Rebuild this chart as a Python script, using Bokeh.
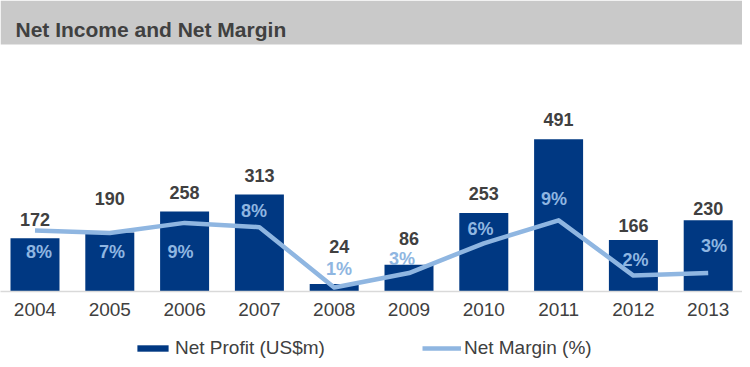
from bokeh.plotting import figure
from bokeh.layouts import column
from bokeh.models import (ColumnDataSource, Range1d, FixedTicker, Legend, LegendItem,
                          Label, BoxAnnotation)
from bokeh.embed import file_html
from bokeh.resources import INLINE
from bokeh.core.properties import value

# ---- data ----
years = ["2004", "2005", "2006", "2007", "2008", "2009", "2010", "2011", "2012", "2013"]
net_profit = [172, 190, 258, 313, 24, 86, 253, 491, 166, 230]
net_margin = [7.7, 7.4, 8.6, 8.1, 1.0, 2.7, 6.2, 8.9, 2.4, 2.7]
series_names = ["Net Profit (US$m)", "Net Margin (%)"]

# ---- label placement (pixels) ----
profit_dx = [0, 0, 0, 0, 5, 0, 0, 0, 0, 0]
profit_dy = [-18.7, -33.6, -19.5, -18.5, -37.6, -26.3, -19.1, -19.5, -15, -11.2]
margin_dx = [4, 2.2, -4.1, -5.4, 4.8, -7, -3.3, -4.6, 2.1, 5.8]
margin_dy = [21.5, 18.9, 29.1, -16.6, -18.5, -14, -14.3, -21.3, -15.1, -27]

NAVY = "#003882"
LIGHT = "#8FB6E1"
DARK = "#404040"
FONT = "Liberation Sans"

idx = list(range(len(years)))
src = ColumnDataSource(dict(
    x=idx, profit=net_profit, margin=net_margin,
    profit_txt=[str(v) for v in net_profit],
    margin_txt=[f"{round(v):d}%" for v in net_margin],
    pdx=profit_dx, pdy=profit_dy, mdx=margin_dx, mdy=margin_dy,
))

p = figure(width=742, height=323, output_backend="svg", toolbar_location=None,
           x_range=Range1d(-0.4612, 9.4586), y_range=Range1d(0, 938.7),
           y_axis_location=None, min_border_left=0, min_border_right=0,
           min_border_top=0, min_border_bottom=32)
p.extra_y_ranges = {"margin": Range1d(0.529, 34.76)}
p.outline_line_color = None
p.grid.visible = False
p.background_fill_color = "white"
p.border_fill_color = "white"

# title band
band = BoxAnnotation(left=0, right=742, top=291, bottom=247,
                     left_units="screen", right_units="screen",
                     top_units="screen", bottom_units="screen",
                     fill_color="#C9C9C9", fill_alpha=1, line_color=None, level="underlay")
p.add_layout(band)
p.add_layout(Label(x=15, y=262, x_units="screen", y_units="screen",
                   text="Net Income and Net Margin", text_font=FONT,
                   text_font_size="21px", text_font_style="bold", text_color=DARK,
                   text_baseline="alphabetic"))

bar_style = dict(fill_color=NAVY, line_color=None)
line_style = dict(line_color=LIGHT, line_width=4.5)

p.vbar(x="x", top="profit", width=0.655, source=src, **bar_style)
p.line(x="x", y="margin", source=src, y_range_name="margin", line_join="round", **line_style)

p.text(x="x", y="profit", text="profit_txt", source=src, x_offset="pdx", y_offset="pdy",
       text_font=value(FONT), text_font_size="18px", text_font_style="bold",
       text_color=DARK, text_align="center", text_baseline="middle")
p.text(x="x", y="margin", text="margin_txt", source=src, y_range_name="margin",
       x_offset="mdx", y_offset="mdy",
       text_font=value(FONT), text_font_size="18px", text_font_style="bold",
       text_color=LIGHT, text_align="center", text_baseline="middle")

ax = p.xaxis[0]
ax.ticker = FixedTicker(ticks=idx)
ax.major_label_overrides = {i: y for i, y in zip(idx, years)}
ax.major_label_text_font = FONT
ax.major_label_text_font_size = "19px"
ax.major_label_text_color = DARK
ax.axis_line_color = "#D9D9D9"
ax.axis_line_width = 1.5
ax.major_tick_line_color = None
ax.minor_tick_line_color = None
ax.major_tick_out = 0
ax.major_tick_in = 0
ax.major_label_standoff = 11

# legend strip (separate figure so the legend is not clipped by the main frame)
lf = figure(width=742, height=36, output_backend="svg", toolbar_location=None,
            x_range=Range1d(0, 1), y_range=Range1d(0, 1),
            x_axis_location=None, y_axis_location=None,
            min_border_left=0, min_border_right=0, min_border_top=0, min_border_bottom=0)
lf.outline_line_color = None
lf.grid.visible = False
lb = lf.vbar(x="x", top="profit", width=0.655, source=src, visible=False, **bar_style)
ll = lf.line(x="x", y="margin", source=src, visible=False, **line_style)
legend = Legend(items=[LegendItem(label=series_names[0], renderers=[lb]),
                       LegendItem(label=series_names[1], renderers=[ll])],
                orientation="horizontal", location=(133, 0),
                glyph_width=39, glyph_height=8, label_standoff=3, spacing=97,
                padding=0, margin=0, border_line_color=None, background_fill_alpha=0,
                label_text_font=FONT, label_text_font_size="19px", label_text_color=DARK)
lf.add_layout(legend)

layout = column(p, lf, spacing=0)
open("out.html", "w").write(file_html(layout, INLINE))
